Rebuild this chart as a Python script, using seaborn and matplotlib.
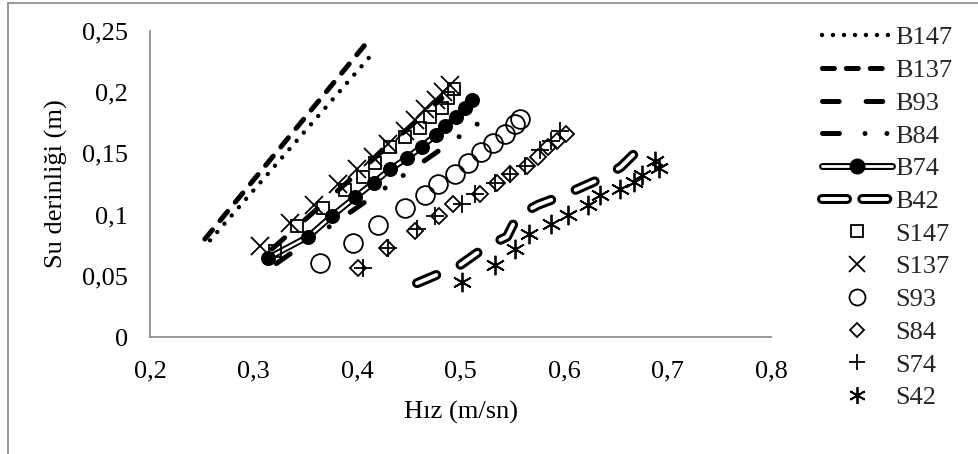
import matplotlib
matplotlib.use('Agg')
import matplotlib.pyplot as plt
import seaborn as sns
from matplotlib.lines import Line2D
from matplotlib.legend_handler import HandlerTuple

sns.set_theme(style='white')
plt.rcParams['font.family'] = ['Liberation Serif', 'DejaVu Serif']
plt.rcParams['lines.scale_dashes'] = False

# ---------------- data (Hız m/sn, Su derinliği m) ----------------
b147_x = [0.258, 0.416]
b147_y = [0.079, 0.2325]
b137_x = [0.253, 0.407]
b137_y = [0.080, 0.238]
b93_x = [0.318, 0.482]
b93_y = [0.072, 0.195]
b84_x = [0.322, 0.535]
b84_y = [0.060, 0.185]
b74_x = [0.314, 0.353, 0.376, 0.398, 0.416, 0.432, 0.448, 0.4625, 0.476, 0.485, 0.496, 0.504, 0.511]
b74_y = [0.0645, 0.082, 0.099, 0.114, 0.126, 0.137, 0.146, 0.1555, 0.165, 0.172, 0.180, 0.1875, 0.1937]
b42_x = [0.458, 0.500, 0.525, 0.545, 0.555, 0.575, 0.600, 0.640, 0.655, 0.667, 0.671]
b42_y = [0.044, 0.059, 0.074, 0.082, 0.099, 0.108, 0.116, 0.131, 0.139, 0.149, 0.138]

s147_x = [0.321, 0.342, 0.367, 0.388, 0.406, 0.417, 0.432, 0.446, 0.461, 0.4705, 0.482, 0.488, 0.494]
s147_y = [0.070, 0.0905, 0.1055, 0.1205, 0.131, 0.1425, 0.155, 0.163, 0.171, 0.1795, 0.1875, 0.1955, 0.2025]
s137_x = [0.306, 0.335, 0.358, 0.382, 0.400, 0.415, 0.430, 0.446, 0.456, 0.466, 0.476, 0.483, 0.490]
s137_y = [0.074, 0.093, 0.108, 0.125, 0.137, 0.147, 0.158, 0.168, 0.177, 0.186, 0.194, 0.200, 0.206]
s93_x = [0.364, 0.3965, 0.420, 0.4464, 0.4657, 0.4786, 0.4947, 0.5076, 0.520, 0.5317, 0.543, 0.5527, 0.5575]
s93_y = [0.0604, 0.0768, 0.0918, 0.1055, 0.1164, 0.1246, 0.1328, 0.1424, 0.151, 0.1588, 0.1656, 0.1738, 0.178]
s84_x = [0.401, 0.429, 0.456, 0.479, 0.493, 0.519, 0.535, 0.548, 0.564, 0.575, 0.585, 0.593, 0.602]
s84_y = [0.056, 0.073, 0.087, 0.099, 0.109, 0.117, 0.126, 0.133, 0.140, 0.147, 0.155, 0.160, 0.166]
s74_x = [0.406, 0.430, 0.458, 0.475, 0.501, 0.514, 0.533, 0.548, 0.562, 0.577, 0.587, 0.596]
s74_y = [0.056, 0.073, 0.088, 0.099, 0.109, 0.117, 0.126, 0.133, 0.140, 0.153, 0.160, 0.168]
s42_x = [0.501, 0.533, 0.553, 0.566, 0.587, 0.604, 0.623, 0.635, 0.654, 0.668, 0.675, 0.688, 0.692]
s42_y = [0.045, 0.059, 0.072, 0.084, 0.092, 0.100, 0.108, 0.116, 0.121, 0.127, 0.132, 0.144, 0.138]

x_ticks = [0.2, 0.3, 0.4, 0.5, 0.6, 0.7, 0.8]
y_ticks = [0, 0.05, 0.1, 0.15, 0.2, 0.25]

FS = 19
fig = plt.figure(figsize=(9.79, 4.54), dpi=100)
W, H = 979, 454
ax = fig.add_axes([150 / W, 1 - 337 / H, (771 - 150) / W, (337 - 31) / H])

K = 'black'

def line(x, y, lw, dashes=None, cap='round', color=K, **kw):
    sns.lineplot(x=x, y=y, ax=ax, sort=False, estimator=None, color=color, lw=lw, **kw)
    ln = ax.lines[-1]
    if dashes is not None:
        ln.set_dashes(dashes)
    ln.set_dash_capstyle(cap)
    ln.set_solid_capstyle(cap)
    return ln

def marks(x, y, marker, ms, filled=False, mew=1.3):
    sns.lineplot(x=x, y=y, ax=ax, sort=False, estimator=None, color=K,
                 linestyle='', marker=marker, markersize=ms,
                 markerfacecolor=(K if filled else 'none'), markeredgecolor=K,
                 markeredgewidth=mew)

d147 = (0.01, 7.9)
d137 = (8.6, 8.6)
d93 = (12.0, 19.4)
d84 = (12.2, 18.4, 0.01, 15.8, 0.01, 18.4)
d42 = (15.0, 19.0)

line(b147_x, b147_y, 3.2, d147)
line(b137_x, b137_y, 3.6, d137)
line(b93_x, b93_y, 3.6, d93)
line(b84_x, b84_y, 3.6, d84)
line(b74_x, b74_y, 4.6, None)
line(b74_x, b74_y, 1.8, None, color='white')
marks(b74_x, b74_y, 'o', 9.5, filled=True)
line(b42_x, b42_y, 7.2, d42)
line(b42_x, b42_y, 2.8, d42, color='white')

marks(s147_x, s147_y, 's', 9.0)
marks(s137_x, s137_y, 'x', 13.0)
marks(s93_x, s93_y, 'o', 13.5)
marks(s84_x, s84_y, 'D', 8.6)
marks(s74_x, s74_y, '+', 13.0)
marks(s42_x, s42_y, (6, 2, 0), 14.0)

ax.set_xlim(0.2, 0.8)
ax.set_ylim(0, 0.25)
ax.set_xticks(x_ticks)
ax.set_yticks(y_ticks)
fmt = lambda v: ('%g' % v).replace('.', ',')
ax.set_xticklabels([fmt(v) for v in x_ticks])
ax.set_yticklabels([fmt(v) for v in y_ticks])
ax.tick_params(length=0, labelsize=FS, colors=K)
ax.tick_params(axis='x', pad=17)
ax.tick_params(axis='y', pad=16)
for s in ['top', 'right']:
    ax.spines[s].set_visible(False)
for s in ['left', 'bottom']:
    ax.spines[s].set_color('#868686')
    ax.spines[s].set_linewidth(1.2)
ax.set_xlabel('Hız (m/sn)', fontsize=FS, labelpad=13, color=K)
ax.set_ylabel('Su derinliği (m)', fontsize=FS, labelpad=10, color=K)
ax.grid(False)

# legend
def L(**kw):
    return Line2D([], [], color=K, **kw)

h147 = L(lw=3.2, dashes=d147, dash_capstyle='round')
h137 = L(lw=3.6, dashes=d137, dash_capstyle='round')
h93 = L(lw=3.6, dashes=d93, dash_capstyle='round')
h84 = L(lw=3.6, dashes=d84, dash_capstyle='round')
h74 = (L(lw=5.0, solid_capstyle='round'),
       Line2D([], [], color='white', lw=2.0, solid_capstyle='round'),
       L(ls='', marker='o', ms=10.5))
h42 = (L(lw=7.2, dashes=(18.0, 11.0), dash_capstyle='round'),
       Line2D([], [], color='white', lw=2.8, dashes=(18.0, 11.0), dash_capstyle='round'))
def M(marker, ms):
    return L(ls='', marker=marker, ms=ms, mfc='none', mec=K, mew=1.3)
handles = [h147, h137, h93, h84, h74, h42,
           M('s', 9.0), M('x', 11.5), M('o', 11.5), M('D', 7.6), M('+', 11.5), M((6, 2, 0), 12.0)]
labels = ['B147', 'B137', 'B93', 'B84', 'B74', 'B42', 'S147', 'S137', 'S93', 'S84', 'S74', 'S42']
fig.legend(handles, labels, loc='upper left', bbox_to_anchor=(822 / W, 1 - 26 / H),
           frameon=False, fontsize=FS, handlelength=2.65, handletextpad=0.12,
           labelspacing=0.35, borderpad=0, borderaxespad=0,
           handler_map={tuple: HandlerTuple(ndivide=1, pad=0)})

# outer chart frame (left and top edges visible)
fig.add_artist(Line2D([8 / W, 8 / W], [0, 1 - 3 / H], color='#888888', lw=1.2, transform=fig.transFigure))
fig.add_artist(Line2D([8 / W, 1], [1 - 3 / H, 1 - 3 / H], color='#888888', lw=1.2, transform=fig.transFigure))

fig.savefig('out.png', dpi=100)
